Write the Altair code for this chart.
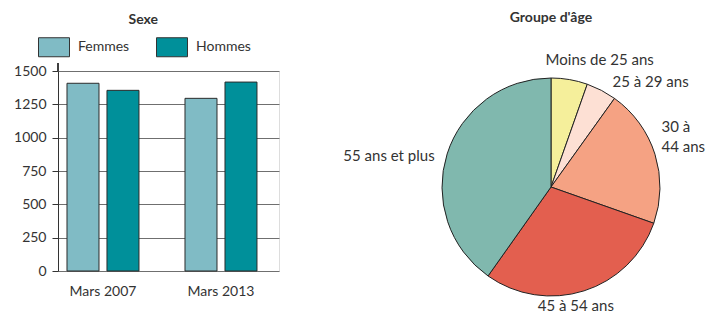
import altair as alt
import pandas as pd

# ---- data ----
periods = ["Mars 2007", "Mars 2007", "Mars 2013", "Mars 2013"]
sexes = ["Femmes", "Hommes", "Femmes", "Hommes"]
counts = [1408, 1355, 1295, 1417]
period_order = ["Mars 2007", "Mars 2013"]
sex_order = ["Femmes", "Hommes"]
y_ticks = [0, 250, 500, 750, 1000, 1250, 1500]

age_groups = ["Moins de 25 ans", "25 à 29 ans", "30 à 44 ans", "45 à 54 ans", "55 ans et plus"]
age_labels = ["Moins de 25 ans", "25 à 29 ans", "30 à\n44 ans", "45 à 54 ans", "55 ans et plus"]
age_shares = [5.4, 4.5, 20.5, 29.4, 40.2]

sex_colors = ["#80bbc5", "#00909a"]
age_colors = ["#f5ef9b", "#fde0d4", "#f5a283", "#e35f4f", "#80b8ae"]

FONT = "Lato"
TXT = "#333333"

# ---- bar chart ----
bar_df = pd.DataFrame({"periode": periods, "sexe": sexes, "effectif": counts})

rect_path = "M-1,-0.613L1,-0.613L1,0.613L-1,0.613Z"

bars = alt.Chart(bar_df).mark_bar(stroke="#2b2b2b", strokeWidth=1, opacity=1).encode(
    x=alt.X("periode:N", sort=period_order,
            scale=alt.Scale(paddingInner=0.39, paddingOuter=0.1314, align=0.29),
            axis=alt.Axis(title=None, labelAngle=0, domain=False, ticks=False, grid=False,
                          labelPadding=13, labelFontSize=14, labelFont=FONT, labelColor=TXT)),
    xOffset=alt.XOffset("sexe:N", sort=sex_order, scale=alt.Scale(paddingInner=0.2, paddingOuter=0)),
    y=alt.Y("effectif:Q", scale=alt.Scale(domain=[0, 1500]),
            axis=alt.Axis(title=None, values=y_ticks, format="d", grid=True, gridColor="#6f6f6f",
                          gridWidth=1, domainColor="#333333", tickColor="#333333", tickSize=6,
                          labelPadding=6, labelFontSize=14, labelFont=FONT, labelColor=TXT)),
    color=alt.Color("sexe:N", scale=alt.Scale(domain=sex_order, range=sex_colors),
                    legend=alt.Legend(title=None, orient="none", legendX=-20, legendY=-40,
                                      direction="horizontal", symbolType=rect_path, symbolSize=961,
                                      symbolStrokeColor="#333333", symbolStrokeWidth=1, symbolOpacity=1,
                                      labelOffset=8, columnPadding=24, labelFontSize=14,
                                      labelFont=FONT, labelColor=TXT)),
)

axis_ext = alt.Chart(bar_df).mark_rule(color="#333333", strokeWidth=1).encode(
    x=alt.value(0), y=alt.value(-8), y2=alt.value(0)
)

bar_chart = alt.layer(bars, axis_ext).properties(
    width=221, height=200,
    title=alt.Title("Sexe", fontSize=14, fontWeight="bold", font=FONT, color=TXT,
                    anchor="middle", frame="bounds", offset=4, dx=-3),
)

# ---- pie chart ----
pie_df = pd.DataFrame({"groupe": age_groups, "label": age_labels, "part": age_shares,
                       "ordre": list(range(len(age_groups)))})

arcs = alt.Chart(pie_df).mark_arc(outerRadius=109, stroke="#222222", strokeWidth=1).encode(
    theta=alt.Theta("part:Q", stack=True),
    order=alt.Order("ordre:Q"),
    color=alt.Color("groupe:N", scale=alt.Scale(domain=age_groups, range=age_colors), legend=None),
)

label_base = alt.Chart(pie_df).transform_window(
    cum="sum(part)", sort=[alt.SortField("ordre")]
).transform_calculate(mid="datum.cum - datum.part / 2")

label_styles = [
    # (index, radius, align, dx, dy)
    (0, 128, "left", -27, -1),
    (1, 118, "left", 7, 0),
    (2, 120, "left", -4, -24),
    (3, 125, "center", -13, 0),
    (4, 120, "right", -2, 5),
]

label_layers = []
for idx, r, al, ddx, ddy in label_styles:
    label_layers.append(
        label_base.transform_filter(alt.datum.ordre == idx).mark_text(
            radius=r, align=al, baseline="middle", dx=ddx, dy=ddy, lineBreak="\n",
            font=FONT, fontSize=15, color=TXT, lineHeight=20,
        ).encode(theta=alt.Theta("mid:Q", stack=None), text="label:N")
    )

pie_chart = alt.layer(arcs, *label_layers).properties(
    width=240, height=232,
    title=alt.Title("Groupe d'âge", fontSize=14, fontWeight="bold", font=FONT, color=TXT,
                    anchor="middle", frame="group", offset=28),
)

chart = alt.hconcat(bar_chart, pie_chart, spacing=152, bounds="flush").resolve_scale(
    color="independent", theta="independent"
).properties(
    padding={"left": 5, "top": 2, "right": 5, "bottom": 0}
).configure_view(stroke=None).configure(font=FONT)

chart.save("out.html", embed_options={"renderer": "svg", "actions": False})
